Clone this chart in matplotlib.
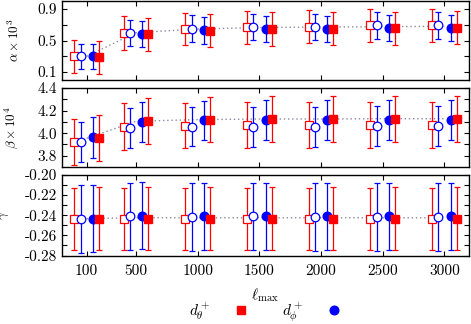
import matplotlib
matplotlib.use("Agg")
import matplotlib.pyplot as plt
from matplotlib.ticker import FixedLocator, FixedFormatter, NullFormatter
from matplotlib.lines import Line2D

plt.rcParams['font.family'] = ['cmr10', 'DejaVu Serif']
plt.rcParams['mathtext.fontset'] = 'cm'
plt.rcParams['axes.unicode_minus'] = False
plt.rcParams['axes.formatter.use_mathtext'] = True

# ---------------- data ----------------
lmax = [100, 500, 1000, 1500, 2000, 2500, 3000]
xtick_labels = ['100', '500', '1000', '1500', '2000', '2500', '3000']

# alpha x 10^3
alpha_open_sq = [0.30, 0.596, 0.645, 0.667, 0.675, 0.69, 0.69]
alpha_open_ci = [0.30, 0.60, 0.65, 0.675, 0.675, 0.69, 0.69]
alpha_fill_ci = [0.30, 0.58, 0.63, 0.645, 0.65, 0.655, 0.66]
alpha_fill_sq = [0.29, 0.58, 0.625, 0.645, 0.65, 0.655, 0.66]
alpha_err_red = [0.21, 0.21, 0.205, 0.21, 0.21, 0.21, 0.21]
alpha_err_blue = [0.16, 0.165, 0.17, 0.165, 0.165, 0.165, 0.165]
alpha_fit = [0.30, 0.60, 0.645, 0.665, 0.67, 0.675, 0.68]

# beta x 10^4
beta_open_sq = [3.92, 4.058, 4.067, 4.072, 4.072, 4.072, 4.072]
beta_open_ci = [3.92, 4.049, 4.058, 4.058, 4.058, 4.064, 4.064]
beta_fill_ci = [3.962, 4.099, 4.113, 4.113, 4.116, 4.116, 4.116]
beta_fill_sq = [3.957, 4.107, 4.119, 4.125, 4.125, 4.125, 4.125]
beta_err_red = [0.205, 0.205, 0.20, 0.205, 0.205, 0.205, 0.205]
beta_err_blue = [0.178, 0.178, 0.175, 0.178, 0.178, 0.178, 0.178]
beta_fit = [3.955, 4.105, 4.12, 4.125, 4.125, 4.128, 4.128]

# gamma
gamma_open_sq = [-0.2436, -0.2436, -0.2436, -0.2436, -0.2436, -0.2436, -0.2436]
gamma_open_ci = [-0.2436, -0.2410, -0.2416, -0.2410, -0.2416, -0.2416, -0.2416]
gamma_fill_ci = [-0.2433, -0.2403, -0.2410, -0.2410, -0.2410, -0.2410, -0.2410]
gamma_fill_sq = [-0.2433, -0.2433, -0.2433, -0.2433, -0.2433, -0.2433, -0.2433]
gamma_err_red = [0.031, 0.031, 0.031, 0.031, 0.031, 0.031, 0.031]
gamma_err_blue = [0.0335, 0.0335, 0.0335, 0.0335, 0.0335, 0.0335, 0.0335]
gamma_fit = [-0.2433, -0.2425, -0.2425, -0.2425, -0.2425, -0.2425, -0.2425]

panels = [
    dict(osq=alpha_open_sq, oci=alpha_open_ci, fci=alpha_fill_ci, fsq=alpha_fill_sq,
         er=alpha_err_red, eb=alpha_err_blue, fit=alpha_fit,
         ylim=(0.0, 1.0), major=[0.1, 0.5, 0.9], labels=['0.1', '0.5', '0.9'],
         minor=[0.3, 0.7], ylabel=r'$\alpha\times10^3$', lx=-0.098),
    dict(osq=beta_open_sq, oci=beta_open_ci, fci=beta_fill_ci, fsq=beta_fill_sq,
         er=beta_err_red, eb=beta_err_blue, fit=beta_fit,
         ylim=(3.7, 4.4), major=[3.8, 4.0, 4.2, 4.4], labels=['3.8', '4.0', '4.2', '4.4'],
         minor=[3.9, 4.1, 4.3], ylabel=r'$\beta\times10^4$', lx=-0.103),
    dict(osq=gamma_open_sq, oci=gamma_open_ci, fci=gamma_fill_ci, fsq=gamma_fill_sq,
         er=gamma_err_red, eb=gamma_err_blue, fit=gamma_fit,
         ylim=(-0.28, -0.20), major=[-0.28, -0.26, -0.24, -0.22, -0.20],
         labels=['-0.28', '-0.26', '-0.24', '-0.22', '-0.20'],
         minor=[-0.27, -0.25, -0.23, -0.21], ylabel=r'$\gamma$', lx=-0.125),
]

RED = '#ff0000'
BLUE = '#0000ff'

fig = plt.figure(figsize=(4.71, 3.24), dpi=100)
L, R = 62 / 471, 469 / 471
boxes = [(1, 80), (88, 167), (175, 255.5)]

ms = 5.6
cap = 2.2
elw = 0.9

for i, (p, (t, b)) in enumerate(zip(panels, boxes)):
    ax = fig.add_axes([L, 1 - b / 324, R - L, (b - t) / 324])
    ax.plot(lmax, p['fit'], linestyle=(0, (1, 2)), color='#8a8a9e', lw=1.0, zorder=1)
    xs = lambda off: [v + off for v in lmax]
    ax.errorbar(xs(-100), p['osq'], yerr=p['er'], fmt='s', mfc='white', mec=RED, ecolor=RED,
                ms=ms, mew=0.9, capsize=cap, elinewidth=elw, capthick=elw, zorder=3)
    ax.errorbar(xs(-50), p['oci'], yerr=p['eb'], fmt='o', mfc='white', mec=BLUE, ecolor=BLUE,
                ms=ms + 0.6, mew=0.9, capsize=cap, elinewidth=elw, capthick=elw, zorder=3)
    ax.errorbar(xs(50), p['fci'], yerr=p['eb'], fmt='o', mfc=BLUE, mec=BLUE, ecolor=BLUE,
                ms=ms + 0.6, capsize=cap, elinewidth=elw, capthick=elw, zorder=3)
    ax.errorbar(xs(100), p['fsq'], yerr=p['er'], fmt='s', mfc=RED, mec=RED, ecolor=RED,
                ms=ms, capsize=cap, elinewidth=elw, capthick=elw, zorder=3)
    ax.set_xlim(-100, 3200)
    ax.set_ylim(*p['ylim'])
    ax.xaxis.set_major_locator(FixedLocator(lmax))
    if i == 2:
        ax.xaxis.set_major_formatter(FixedFormatter(xtick_labels))
    else:
        ax.xaxis.set_major_formatter(NullFormatter())
    ax.yaxis.set_major_locator(FixedLocator(p['major']))
    ax.yaxis.set_major_formatter(FixedFormatter(p['labels']))
    ax.yaxis.set_minor_locator(FixedLocator(p['minor']))
    ax.tick_params(which='both', direction='in', top=True, right=True, labelsize=11,
                   length=3.5, width=0.8)
    ax.tick_params(axis='x', pad=6)
    for s in ax.spines.values():
        s.set_linewidth(1.0)
    ax.set_ylabel(p['ylabel'], fontsize=9.5)
    ax.yaxis.set_label_coords(p['lx'], 0.5)
    if i == 2:
        ax.set_xlabel(r'$\ell_{\rm max}$', fontsize=11, va='top')
        ax.xaxis.set_label_coords(0.5, -0.39)

h_red = Line2D([], [], marker='s', color=RED, linestyle='none', ms=ms)
h_blue = Line2D([], [], marker='o', color=BLUE, linestyle='none', ms=ms + 0.6)
fig.legend([h_red, h_blue], [r'$d_\theta^+$', r'$d_\phi^+$'], loc='center',
           bbox_to_anchor=(0.564, 1 - 312 / 324), ncol=2, frameon=False, markerfirst=False,
           fontsize=11, handlelength=1.0, handletextpad=1.5, columnspacing=2.2,
           borderpad=0.0)

fig.savefig('out.png', dpi=100)
